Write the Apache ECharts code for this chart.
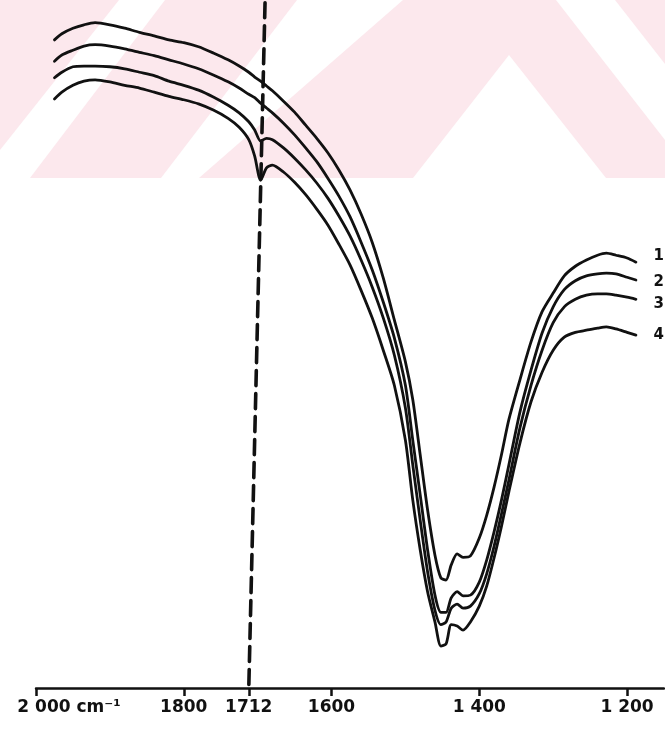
<!DOCTYPE html>
<html>
<head>
<meta charset="utf-8">
<title>IR spectra 1–4</title>
<script src="https://cdn.jsdelivr.net/npm/echarts@6/dist/echarts.min.js"></script>
<style>
  html, body { margin: 0; padding: 0; background: #ffffff; }
  #chart { width: 665px; height: 752px; }
</style>
</head>
<body>
<div id="chart"></div>
<script>
// Wavenumber grid (cm^-1) shared by the four spectra
const wavenumbers = [1975,1965,1950,1935,1920,1900,1880,1860,1840,1820,
  1800,1780,1760,1740,1725,1712,1704,1696,1688,1680,
  1665,1650,1635,1620,1605,1590,1575,1560,1545,1530,
  1515,1500,1490,1480,1470,1460,1452,1445,1438,1430,
  1422,1412,1400,1390,1380,1370,1360,1345,1330,1315,
  1300,1285,1270,1255,1240,1228,1215,1200,1188];

// Transmittance (%) of each sample
const spectrum1 = [94.2,95.1,95.9,96.4,96.7,96.4,95.9,95.3,94.8,94.2,
  93.8,93.2,92.3,91.3,90.4,89.5,88.8,88.2,87.5,86.8,
  85.3,83.7,81.8,79.9,77.8,75.3,72.4,68.9,64.8,59.6,
  53.5,47.4,41.9,33.9,25.9,19.3,16.0,15.7,17.9,19.5,
  19.0,19.2,21.8,25.1,29.2,33.9,39.0,44.8,50.3,54.7,
  57.4,59.9,61.3,62.2,62.9,63.2,62.9,62.5,61.9];
const spectrum2 = [91.1,92.0,92.7,93.3,93.5,93.3,92.9,92.4,91.9,91.3,
  90.7,90.0,89.1,88.1,87.2,86.3,85.8,85.0,84.3,83.6,
  82.1,80.4,78.5,76.5,74.1,71.5,68.5,64.8,60.8,56.1,
  50.9,44.0,36.0,28.1,20.1,13.5,11.0,11.0,13.1,14.0,
  13.4,13.5,15.4,18.6,22.7,27.3,32.4,40.1,46.2,51.6,
  55.4,57.9,59.2,59.9,60.2,60.3,60.2,59.7,59.3];
const spectrum3 = [88.7,89.5,90.3,90.4,90.4,90.3,90.0,89.5,89.0,88.2,
  87.6,86.9,85.9,84.7,83.6,82.3,81.1,79.5,79.9,79.7,
  78.5,77.0,75.3,73.4,71.2,68.6,65.7,62.2,58.3,53.8,
  48.4,40.7,32.4,24.4,16.9,11.3,9.2,9.6,11.6,12.2,
  11.6,11.9,13.7,16.6,20.6,25.3,30.2,37.8,44.0,49.1,
  53.1,55.4,56.5,57.1,57.3,57.3,57.1,56.8,56.5];
const spectrum4 = [85.6,86.6,87.6,88.2,88.4,88.1,87.6,87.2,86.6,86.0,
  85.5,84.9,84.0,82.8,81.5,79.7,77.3,73.8,75.6,76.0,
  75.0,73.5,71.7,69.6,67.3,64.5,61.5,57.8,53.8,49.1,
  44.0,36.0,27.3,20.1,14.0,9.6,6.1,6.4,9.2,9.0,
  8.4,9.6,11.9,14.8,18.9,23.5,28.5,35.6,41.6,45.9,
  49.1,51.0,51.7,52.0,52.3,52.5,52.2,51.7,51.3];

const seriesNames = ['1', '2', '3', '4'];
const seriesValues = [spectrum1, spectrum2, spectrum3, spectrum4];

// Axis ticks and their printed labels
const tickValues = [2000, 1800, 1712, 1600, 1400, 1200];
const tickLabels = ['2 000 cm⁻¹', '1800', '1712', '1600', '1 400', '1 200'];

// Carbonyl marker: drawn at 1712 on the axis, leaning to 1690 at the top
const markerBottom = 1712;
const markerTop = 1690;

const ink = '#111111';
// Curve numbers sit just past the right end of each trace
const labelOffsets = [[46, -6], [46, 2], [46, 5], [46, 0]];

const chart = echarts.init(document.getElementById('chart'), null, { renderer: 'canvas' });

const series = seriesValues.map((vals, i) => ({
  name: seriesNames[i],
  type: 'line',
  data: wavenumbers.map((w, k) => [w, vals[k]]),
  showSymbol: false,
  smooth: 0.25,
  lineStyle: { color: ink, width: 2.8, cap: 'round', join: 'round' },
  z: 3,
  endLabel: {
    show: true,
    formatter: '{a}',
    color: ink,
    fontFamily: 'DejaVu Sans',
    fontWeight: 'bold',
    fontSize: 15,
    distance: 18,
    offset: labelOffsets[i]
  },
  markLine: i === 0 ? {
    silent: true,
    symbol: 'none',
    label: { show: false },
    lineStyle: { color: ink, width: 3.6, type: [15, 8], cap: 'round' },
    data: [[{ coord: [markerTop, 99.6] }, { coord: [markerBottom, 0] }]]
  } : undefined
}));

// Faint pink diagonal band decoration across the top
const pink = '#fce8ed';
const bands = [
  [[0, 0], [119, 0], [0, 150]],
  [[165, 0], [297, 0], [161, 178], [30, 178]],
  [[403, 0], [556, 0], [665, 140], [665, 178], [606, 178], [509, 55], [413, 178], [199, 178]],
  [[615, 0], [665, 0], [665, 64]]
];

chart.setOption({
  animation: false,
  backgroundColor: '#ffffff',
  graphic: bands.map(p => ({
    type: 'polygon',
    silent: true,
    z: -10,
    shape: { points: p },
    style: { fill: pink }
  })),
  grid: { left: 36, right: 1, top: 0, bottom: 64, containLabel: false },
  xAxis: {
    type: 'value',
    inverse: true,
    min: 1150,
    max: 2000,
    axisLine: { show: true, lineStyle: { color: ink, width: 2.5 } },
    axisTick: {
      show: true,
      customValues: tickValues,
      length: 8,
      lineStyle: { color: ink, width: 2.5 }
    },
    axisLabel: {
      customValues: tickValues,
      margin: 11,
      color: ink,
      fontFamily: 'DejaVu Sans',
      fontWeight: 'bold',
      fontSize: 17,
      formatter: v => {
        const i = tickValues.indexOf(v);
        const t = i >= 0 ? tickLabels[i] : '';
        return v === 2000 ? '{first|' + t + '}' : t;
      },
      rich: {
        first: {
          color: ink,
          fontFamily: 'DejaVu Sans',
          fontWeight: 'bold',
          fontSize: 17,
          padding: [0, 0, 0, 66]
        }
      }
    },
    splitLine: { show: false }
  },
  yAxis: {
    type: 'value',
    min: 0,
    max: 100,
    show: false,
    splitLine: { show: false }
  },
  series: series
});
</script>
</body>
</html>
